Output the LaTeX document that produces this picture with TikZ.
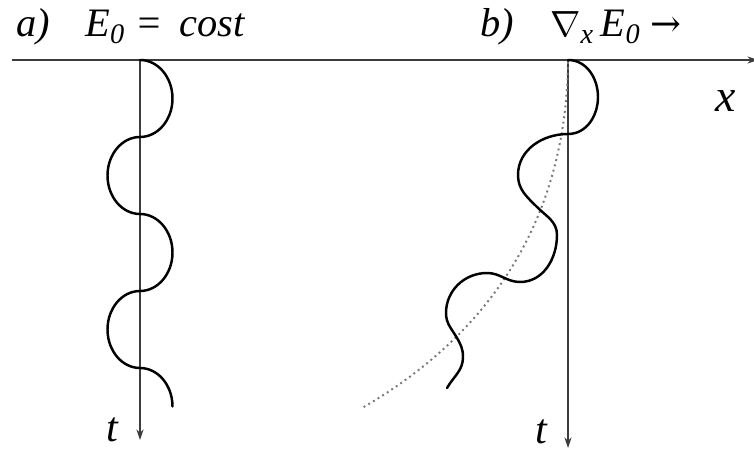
\documentclass[tikz,border=0pt]{standalone}
\usepackage{fontspec}
\setmainfont{Liberation Serif}
\newfontfamily\arrowfont{DejaVu Serif}
\usetikzlibrary{arrows.meta}
\definecolor{axisgray}{RGB}{60,60,60}
\definecolor{dotgray}{RGB}{120,120,120}
\begin{document}
\begin{tikzpicture}[x=0.02cm,y=0.02cm,>={Stealth[length=6pt,width=4pt]},
 axis/.style={line width=0.6pt,axisgray},
 wave/.style={line width=1.4pt,line cap=round},
 lbl/.style={font=\fontsize{23}{26}\selectfont\itshape,inner sep=0pt,anchor=base west}]
\useasboundingbox (0,0) rectangle (754,-452);
% axes
\coordinate (xo) at (12,-60); \coordinate (xe) at (758,-60);
\coordinate (ta) at (140,-60); \coordinate (tae) at (140,-440);
\coordinate (tb) at (568,-60); \coordinate (tbe) at (568,-448);
\draw[axis,->] (xo)--(xe);
\draw[axis,->] (ta)--(tae);
\draw[axis,->] (tb)--(tbe);
\node[lbl] (la) at (16,-37) {a)};
\node[lbl] (ea) at (85,-37) {E\textsubscript{0} = \,cost};
\node[lbl] (lb) at (480,-37) {b)};
\node[lbl] (eb) at (550,-37) {{\fontsize{20}{22}\selectfont$\nabla$}\textsubscript{x}\,E\textsubscript{0} {\arrowfont\upshape\fontsize{21}{22}\selectfont →}};
\node[lbl,font=\fontsize{26}{28}\selectfont\itshape] (nx) at (715,-112) {x};
\node[lbl,font=\fontsize{24}{26}\selectfont\itshape] (nta) at (106,-441) {t};
\node[lbl,font=\fontsize{24}{26}\selectfont\itshape] (ntb) at (535,-443) {t};
% a) wave along t
\draw[wave] (ta) arc[start angle=90,end angle=-90,x radius=32.5,y radius=38.5]
 arc[start angle=90,end angle=270,x radius=32.5,y radius=38.5]
 arc[start angle=90,end angle=-90,x radius=32.5,y radius=38.5]
 arc[start angle=90,end angle=270,x radius=32.5,y radius=38.5]
 arc[start angle=90,end angle=0,x radius=32.5,y radius=38.5];
% b) drifting wave
\coordinate (db) at (568,-62); \coordinate (de) at (362,-408);
\draw[dotted,line width=1.1pt,dotgray] (db) .. controls (566,-230) and (480,-340) .. (de);
\draw[wave] (tb) to[out=0,in=90] (598,-97) to[out=-90,in=0] (568,-134)
 to[out=180,in=90] (518,-175) to[out=-90,in=135] (537,-207)
 to[out=-45,in=90] (557,-235) to[out=-90,in=0] (520,-282)
 to[out=180,in=0] (487,-273) to[out=180,in=90] (446,-313)
 to[out=-90,in=120] (457,-338) to[out=-60,in=90] (463,-357)
 to[out=-90,in=60] (447,-388);
\end{tikzpicture}
\end{document}
